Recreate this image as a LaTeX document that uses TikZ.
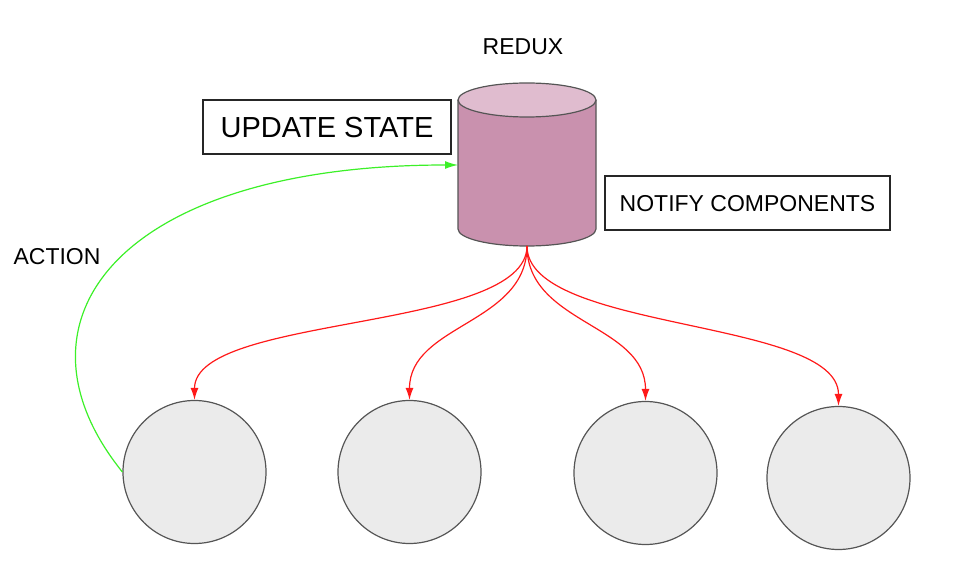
\documentclass[tikz,border=0pt]{standalone}
\usepackage{fontspec}
\setmainfont{Liberation Sans}
\usetikzlibrary{arrows.meta, positioning, calc}
\definecolor{dbbody}{RGB}{201,145,174}
\definecolor{dbtop}{RGB}{224,188,207}
\definecolor{edgegray}{RGB}{85,85,85}
\definecolor{compfill}{RGB}{235,235,235}
\definecolor{notifyred}{RGB}{255,25,25}
\definecolor{actiongreen}{RGB}{60,240,40}
\tikzset{
    label/.style = {font=\fontsize{23}{27}\selectfont, text=black},
    textbox/.style = {rectangle, draw=black!85, line width=1.2pt, fill=white, inner sep=0pt, text depth=0pt, minimum height=54pt},
    component/.style = {circle, draw=edgegray, line width=1.2pt, fill=compfill, minimum size=143pt, inner sep=0pt},
    dbpart/.style = {draw=edgegray, line width=1.2pt},
    notify/.style = {draw=notifyred, line width=1.2pt, -{Latex[length=12pt,width=8pt]}},
    action/.style = {draw=actiongreen, line width=1.2pt, -{Latex[length=13pt,width=8pt]}}
}

\begin{document}
\begin{tikzpicture}[x=1pt, y=1pt]
        \useasboundingbox (0,0) rectangle (964,582);
        % Store
        \path [fill=dbbody] (458,482) -- (458,353) arc[start angle=180, end angle=360, x radius=69, y radius=17] -- (596,482) -- cycle;
        \draw [dbpart] (458,482) -- (458,353) arc[start angle=180, end angle=360, x radius=69, y radius=17] -- (596,482);
        \draw [dbpart, fill=dbtop] (527,482) ellipse[x radius=69, y radius=17];
        \coordinate (reduxbot) at (527,336);
        \coordinate (reduxin) at (458,417);
        \node [label] (redux) at (523,535) {REDUX};

        % Boxes
        \node [textbox, minimum width=248pt, font=\fontsize{29}{34}\selectfont] (update) at (327,455) {UPDATE STATE};
        \node [textbox, minimum width=285pt, label] (notifybox) at (747.5,379) {NOTIFY COMPONENTS};
        \node [label] (action) at (57,325) {ACTION};

        % Components
        \node [component] (comp1) at (194.5,110) {};
        \node [component] (comp2) at (409.5,110) {};
        \node [component] (comp3) at (645.5,109) {};
        \node [component] (comp4) at (838.5,104) {};

        % Edges
        \draw [notify] (reduxbot) .. controls (527,250) and (comp1.north |- 0,268) .. (comp1.north);
        \draw [notify] (reduxbot) .. controls (527,258) and (comp2.north |- 0,258) .. (comp2.north);
        \draw [notify] (reduxbot) .. controls (527,258) and (comp3.north |- 0,258) .. (comp3.north);
        \draw [notify] (reduxbot) .. controls (527,250) and (comp4.north |- 0,264) .. (comp4.north);
        \draw [action] (comp1.west) .. controls (0,262) and (120,417) .. (reduxin);
    \end{tikzpicture}
\end{document}
